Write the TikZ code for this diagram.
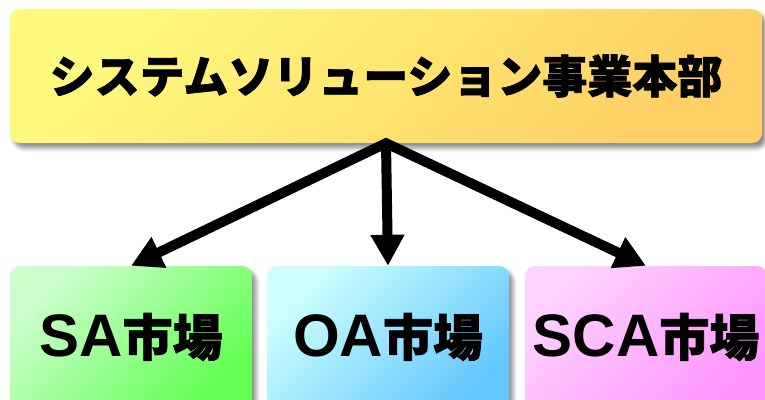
\documentclass[tikz,border=0pt]{standalone}
\usepackage{fontspec}
\setmainfont{Liberation Sans}
\newfontfamily\cjk{Noto Sans CJK JP}[BoldFeatures={FakeBold=1.5}]
\usetikzlibrary{arrows.meta,shadows.blur}
\definecolor{topA}{RGB}{255,250,125}
\definecolor{topB}{RGB}{255,208,100}
\definecolor{saA}{RGB}{205,255,205}
\definecolor{saB}{RGB}{100,255,85}
\definecolor{oaA}{RGB}{205,255,255}
\definecolor{oaB}{RGB}{100,200,255}
\definecolor{scaA}{RGB}{255,210,255}
\definecolor{scaB}{RGB}{255,150,255}
\tikzset{
  box/.style={rounded corners=10pt, inner sep=0pt, shade, shading=axis,
    blur shadow={shadow xshift=4pt, shadow yshift=-5pt, shadow blur radius=4pt, shadow opacity=45}},
  grad/.style 2 args={top color=#1, bottom color=#2, shading angle=45},
  market/.style={box, minimum width=242pt, minimum height=142pt, font=\bfseries\fontsize{60}{60}\selectfont},
  con/.style={line width=10pt, -{Triangle[width=32pt,length=31pt]}},
}
\newcommand{\ichiba}{{\cjk\fontsize{50}{50}\selectfont 市場}}
\begin{document}
\begin{tikzpicture}[x=1pt,y=-1pt]
\useasboundingbox (0,0) rectangle (765,399);
\node[box, grad={topA}{topB}, minimum width=752pt, minimum height=134pt] (top) at (386,76)
  {\cjk\bfseries\fontsize{45}{45}\selectfont システムソリューション事業本部};
\node[market, grad={saA}{saB}] (sa) at (131,337) {SA\ichiba};
\node[market, grad={oaA}{oaB}] (oa) at (388,337) {OA\ichiba};
\node[market, grad={scaA}{scaB}] (sca) at (646,337) {SCA\ichiba};
\draw[line width=10pt, line join=miter, {Triangle[width=32pt,length=31pt]}-{Triangle[width=32pt,length=31pt]}]
  (sa.north) -- (top.south) -- (sca.north);
\draw[con] (top.south) -- (oa.north);
\end{tikzpicture}
\end{document}
